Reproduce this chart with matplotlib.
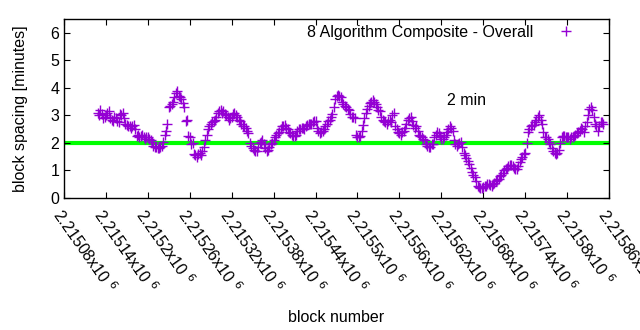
import numpy as np
import matplotlib
matplotlib.use('Agg')
import matplotlib.pyplot as plt

plt.rcParams['font.family'] = ['Liberation Sans', 'DejaVu Sans']

# block spacing (moving average, minutes),
# series a every 4 blocks from first_block, series b offset by 2 blocks
first_block = 2215128
block_step = 4
spacing_a = [
    3.1, 3.2, 2.9, 3.0, 3.15, 2.85, 2.95, 2.8, 3.05, 3.1,
    2.7, 2.6, 2.55, 2.65, 2.25, 2.2, 2.3, 2.15, 2.2, 2.1,
    1.9, 1.85, 1.8, 1.9, 2.3, 2.7, 3.35, 3.5, 3.8, 3.7,
    3.6, 3.3, 2.85, 2.2, 2.0, 1.55, 1.6, 1.55, 1.85, 2.3,
    2.6, 2.75, 2.85, 3.1, 3.2, 3.15, 3.0, 2.85, 2.95, 3.1,
    2.95, 2.8, 2.6, 2.55, 2.35, 1.9, 1.75, 1.7, 2.0, 2.1,
    1.8, 1.75, 1.95, 2.1, 2.3, 2.4, 2.6, 2.65, 2.5, 2.35,
    2.25, 2.3, 2.5, 2.55, 2.5, 2.65, 2.7, 2.75, 2.8, 2.45,
    2.4, 2.5, 2.7, 2.85, 3.05, 3.6, 3.75, 3.65, 3.4, 3.3,
    3.2, 2.95, 2.9, 2.2, 2.25, 2.65, 3.1, 3.35, 3.5, 3.5,
    3.3, 3.15, 2.85, 2.75, 2.8, 2.75, 3.1, 2.5, 2.35, 2.4,
    2.55, 2.85, 2.95, 2.65, 2.6, 2.3, 2.2, 2.1, 1.9, 1.85,
    1.95, 2.3, 2.35, 2.15, 2.2, 2.4, 2.6, 2.45, 1.95, 1.95,
    2.05, 1.65, 1.45, 1.25, 0.95, 0.75, 0.45, 0.35, 0.4, 0.45,
    0.5, 0.45, 0.55, 0.65, 0.8, 0.9, 1.05, 1.15, 1.2, 1.1,
    1.05, 1.3, 1.5, 1.65, 2.4, 2.6, 2.65, 2.85, 3.0, 2.7,
    2.2, 2.15, 1.95, 1.7, 1.6, 1.75, 2.2, 2.25, 2.2, 2.15,
    2.2, 2.3, 2.4, 2.55, 2.4, 2.75, 3.25, 3.2, 2.7, 2.45,
    2.75, 2.7,
]
spacing_b = [
    3.0, 3.05, 2.95, 3.1, 2.9, 2.8, 2.9, 2.75, 3.0, 2.9,
    2.65, 2.6, 2.6, 2.5, 2.3, 2.25, 2.2, 2.2, 2.15, 2.05,
    1.85, 1.8, 1.85, 2.05, 2.45, 3.3, 3.4, 3.65, 3.9, 3.65,
    3.45, 2.8, 2.25, 1.95, 1.6, 1.5, 1.65, 1.7, 2.1, 2.5,
    2.7, 2.8, 2.95, 3.15, 3.1, 3.05, 2.95, 2.9, 3.05, 3.0,
    2.85, 2.7, 2.6, 2.45, 2.0, 1.8, 1.7, 1.85, 2.05, 1.95,
    1.7, 1.85, 2.0, 2.2, 2.35, 2.5, 2.6, 2.55, 2.4, 2.3,
    2.25, 2.45, 2.5, 2.55, 2.6, 2.7, 2.7, 2.8, 2.55, 2.35,
    2.45, 2.6, 2.8, 2.95, 3.3, 3.7, 3.7, 3.5, 3.35, 3.25,
    3.05, 2.95, 2.3, 2.2, 2.45, 2.9, 3.25, 3.45, 3.55, 3.4,
    3.2, 2.95, 2.8, 2.7, 2.85, 3.0, 2.6, 2.4, 2.3, 2.45,
    2.7, 2.9, 2.8, 2.55, 2.45, 2.25, 2.15, 1.95, 1.85, 1.95,
    2.2, 2.4, 2.25, 2.15, 2.3, 2.5, 2.55, 2.1, 1.9, 2.0,
    1.85, 1.55, 1.35, 1.1, 0.85, 0.6, 0.4, 0.38, 0.42, 0.5,
    0.48, 0.5, 0.6, 0.7, 0.85, 1.0, 1.1, 1.2, 1.15, 1.05,
    1.15, 1.4, 1.6, 2.0, 2.5, 2.65, 2.75, 2.95, 2.85, 2.4,
    2.2, 2.05, 1.8, 1.65, 1.65, 2.0, 2.25, 2.2, 2.2, 2.2,
    2.25, 2.35, 2.45, 2.5, 2.6, 3.0, 3.3, 2.95, 2.6, 2.6,
    2.75,
]
blocks_a = first_block + block_step * np.arange(len(spacing_a))
blocks_b = first_block + block_step // 2 + block_step * np.arange(len(spacing_b))
blocks = np.concatenate([blocks_a, blocks_b])
spacing = np.concatenate([spacing_a, spacing_b])

target = 2.0
xmin, xmax = 2215080, 2215860
xticks = np.arange(xmin, xmax + 1, 60)
fs = 11.5

fig = plt.figure(figsize=(6.4, 3.3), dpi=100)
ax = fig.add_axes([0.1, 0.4, 0.8516, 0.5424])

ax.axhline(target, color='#00ff00', linewidth=3, zorder=1)
ax.plot(blocks, spacing, linestyle='none', marker='+', markersize=6.5,
        markeredgewidth=1, color='#9400d3', label='8 Algorithm Composite - Overall', zorder=2)
ax.text(2215628, 3.53, '2 min', fontsize=fs, va='center', ha='left')

ax.set_xlim(xmin, xmax)
ax.set_ylim(0, 6.5)
ax.set_yticks(range(0, 7))
ax.set_xticks(xticks)
ax.set_xticklabels(['%gx10 $^{6}$' % (t / 1e6) for t in xticks],
                   rotation=-55, ha='left', va='top', rotation_mode='anchor')
ax.tick_params(direction='in', top=True, right=True, length=4, labelsize=fs)
ax.tick_params(axis='x', pad=6)
for s in ax.spines.values():
    s.set_linewidth(1)

ax.set_ylabel('block spacing [minutes]', fontsize=fs, labelpad=16)
ax.set_xlabel('block number', fontsize=fs, labelpad=10)

ax.legend(loc='upper right', bbox_to_anchor=(1 - 21 / 545, 1 + 4 / 179), frameon=False,
          markerfirst=False, fontsize=fs, handlelength=1.5, handletextpad=1.3,
          borderaxespad=0.2)

fig.savefig('out.png', dpi=100)
